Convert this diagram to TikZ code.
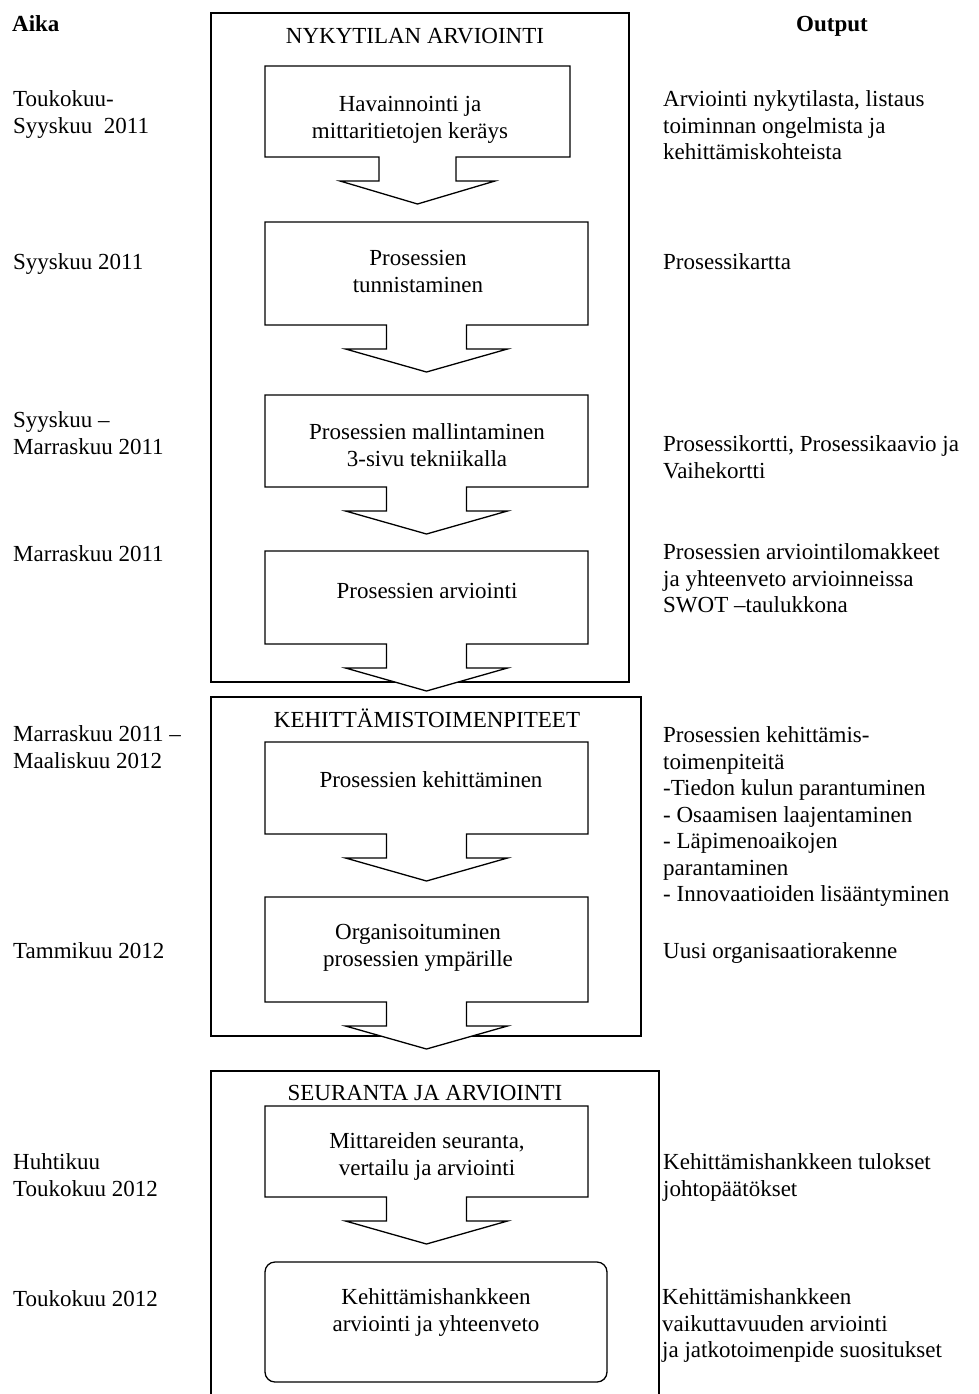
\documentclass[tikz,border=0pt]{standalone}
\usepackage{fontspec}
\setmainfont{Liberation Serif}
\usetikzlibrary{calc}

\tikzset{
  frame/.style={draw, line width=1.3pt},
  outline/.style={draw, line width=1.3pt, fill=white, line join=miter},
  stagebox/.style={inner sep=0pt, outer sep=0pt, minimum width=#1},
  stagebox/.default=323pt,
  lbl/.style={font=\fontsize{23}{26.5}\selectfont, inner sep=0pt,
              execute at begin node=\strut, yshift=8.6pt},
  lft/.style={lbl, anchor=north west, align=left},
  ctr/.style={lbl, anchor=north, align=center},
  hdr/.style={lft, font=\fontsize{23}{26.5}\selectfont\bfseries},
}

% outline of a stage box with its downward arrow tab
% #1 node name, #2 neck half width, #3 wing half width
\newcommand\stagetab[3]{%
  \draw[outline] (#1.north west) -- (#1.north east) -- (#1.south east)
    -- ($(#1.south)+(#2,0)$) -- ++(0,24) -- ($(#1.south)+(#3,24)$)
    -- ($(#1.south)+(0,47)$) -- ($(#1.south)+(-#3,24)$)
    -- ($(#1.south)+(-#2,24)$) -- ($(#1.south)+(-#2,0)$)
    -- (#1.south west) -- cycle;}

\begin{document}
\begin{tikzpicture}[x=1pt,y=-1pt]
\useasboundingbox (0,0) rectangle (978,1394);

% ---- phase frames ----
\node[frame, minimum width=418pt, minimum height=669pt, inner sep=0pt] (f1) at (420,347.5) {};
\node[frame, minimum width=430pt, minimum height=339pt, inner sep=0pt] (f2) at (426,866.5) {};
\coordinate (f3tl) at (211,1071);
\coordinate (f3tr) at (659,1071);
\draw[frame] (f3tl |- 0,1398) -- (f3tl) -- (f3tr) -- (f3tr |- 0,1398);

\node[ctr] (t1) at (415,33) {NYKYTILAN ARVIOINTI};
\node[ctr] (t2) at (427,717) {KEHITTÄMISTOIMENPITEET};
\node[ctr] (t3) at (425,1090) {SEURANTA JA ARVIOINTI};

% ---- stage boxes ----
\node[stagebox=305pt, minimum height=91pt]  (b1) at (417.5,111.5) {};
\node[stagebox, minimum height=103pt] (b2) at (426.5,273.5) {};
\node[stagebox, minimum height=92pt]  (b3) at (426.5,441) {};
\node[stagebox, minimum height=93pt]  (b4) at (426.5,597.5) {};
\node[stagebox, minimum height=92pt]  (b5) at (426.5,788) {};
\node[stagebox, minimum height=105pt] (b6) at (426.5,949.5) {};
\node[stagebox, minimum height=91pt]  (b7) at (426.5,1151.5) {};
\node[draw, line width=1.3pt, rounded corners=10pt, inner sep=0pt,
      minimum width=342pt, minimum height=120pt] (b8) at (436,1322) {};

\stagetab{b1}{38.5}{77.5}
\stagetab{b2}{40}{81}
\stagetab{b3}{40}{81}
\stagetab{b4}{40}{81}
\stagetab{b5}{40}{81}
\stagetab{b6}{40}{81}
\stagetab{b7}{40}{81}

\node[ctr] (s1) at (410,105)  {Havainnointi ja\\mittaritietojen keräys};
\node[ctr] (s2) at (418,259)  {Prosessien\\tunnistaminen};
\node[ctr] (s3) at (427,432)  {Prosessien mallintaminen\\3-sivu tekniikalla};
\node[ctr] (s4) at (427,588)  {Prosessien arviointi};
\node[ctr] (s5) at (431,777)  {Prosessien kehittäminen};
\node[ctr] (s6) at (418,933)  {Organisoituminen\\prosessien ympärille};
\node[ctr] (s7) at (427,1141) {Mittareiden seuranta,\\vertailu ja arviointi};
\node[ctr] (s8) at (436,1297) {Kehittämishankkeen\\arviointi ja yhteenveto};

% ---- time column ----
\node[hdr] (aika) at (12,21) {Aika};
\node[lft] (a1) at (13,99)   {Toukokuu-\\Syyskuu\ \ 2011};
\node[lft] (a2) at (13,259)  {Syyskuu 2011};
\node[lft] (a3) at (13,420)  {Syyskuu –\\Marraskuu 2011};
\node[lft] (a4) at (13,551)  {Marraskuu 2011};
\node[lft] (a5) at (13,734)  {Marraskuu 2011 –\\Maaliskuu 2012};
\node[lft] (a6) at (13,948)  {Tammikuu 2012};
\node[lft] (a7) at (13,1162) {Huhtikuu\\Toukokuu 2012};
\node[lft] (a8) at (13,1296) {Toukokuu 2012};

% ---- output column ----
\node[hdr, anchor=north] (out) at (832,21) {Output};
\node[lft] (o1) at (663,99)   {Arviointi nykytilasta, listaus\\toiminnan ongelmista ja\\kehittämiskohteista};
\node[lft] (o2) at (663,259)  {Prosessikartta};
\node[lft] (o3) at (663,444)  {Prosessikortti, Prosessikaavio ja\\Vaihekortti};
\node[lft] (o4) at (663,552)  {Prosessien arviointilomakkeet\\ja yhteenveto arvioinneissa\\SWOT –taulukkona};
\node[lft] (o5) at (663,735)  {Prosessien kehittämis-\\toimenpiteitä\\-Tiedon kulun parantuminen\\- Osaamisen laajentaminen\\- Läpimenoaikojen\\parantaminen\\- Innovaatioiden lisääntyminen};
\node[lft] (o6) at (663,948)  {Uusi organisaatiorakenne};
\node[lft] (o7) at (663,1162) {Kehittämishankkeen tulokset\\johtopäätökset};
\node[lft] (o8) at (662,1297) {Kehittämishankkeen\\vaikuttavuuden arviointi\\ja jatkotoimenpide suositukset};
\end{tikzpicture}
\end{document}
